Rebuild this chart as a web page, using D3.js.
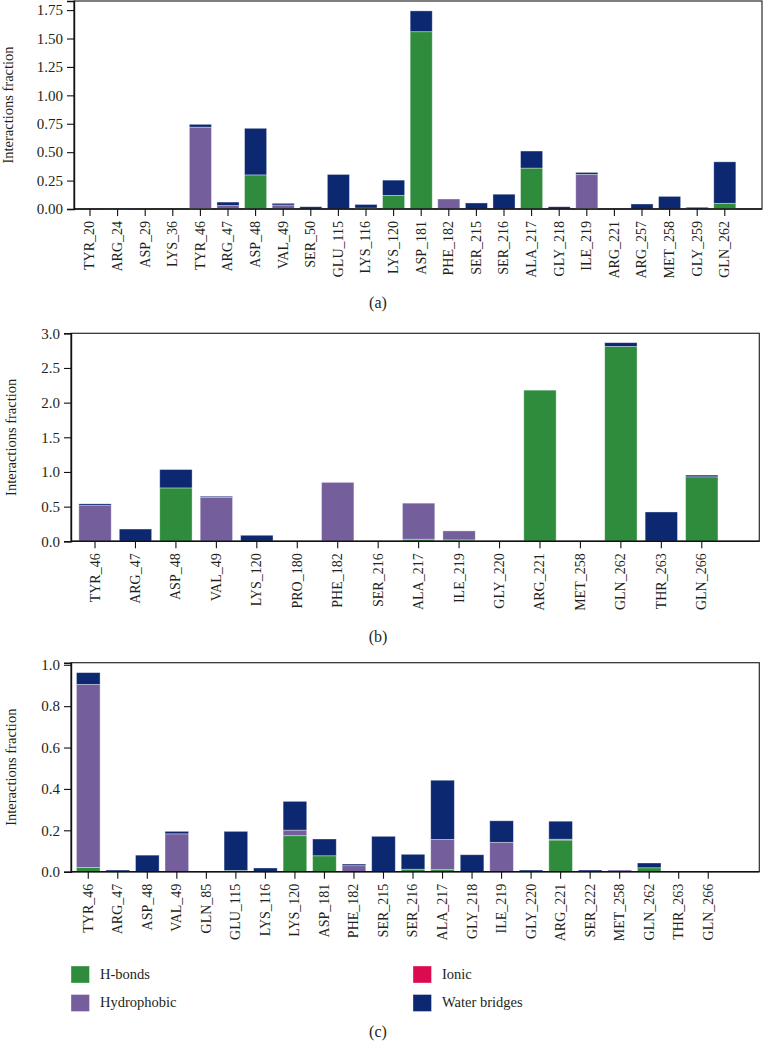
<!DOCTYPE html>
<html><head><meta charset="utf-8">
<script src="https://cdn.jsdelivr.net/npm/d3@7"></script>
<style>
html,body{margin:0;padding:0;background:#fff;}
svg{display:block;font-family:"Liberation Serif","Times New Roman",serif;}
</style></head>
<body>
<svg id="chart" width="764" height="1041"></svg>
<script>
// ---------- DATA ----------
const seriesNames = ["H-bonds", "Hydrophobic", "Ionic", "Water bridges"];
const seriesColors = ["#2f8c3d", "#745e9c", "#dc0a4f", "#0c2870"];

// Panel (a)
const residuesA = ["TYR_20","ARG_24","ASP_29","LYS_36","TYR_46","ARG_47","ASP_48","VAL_49","SER_50","GLU_115","LYS_116","LYS_120","ASP_181","PHE_182","SER_215","SER_216","ALA_217","GLY_218","ILE_219","ARG_221","ARG_257","MET_258","GLY_259","GLN_262"];
const hbondsA = [0,0,0,0,0.005,0,0.30,0,0,0,0.008,0.12,1.56,0,0,0,0.36,0,0.005,0,0,0,0,0.05];
const hydroA  = [0,0,0,0,0.715,0.03,0,0.035,0,0,0,0,0,0.088,0,0,0,0,0.30,0,0,0,0,0];
const ionicA  = [0,0,0,0,0,0,0,0,0,0,0,0,0,0,0,0,0,0,0,0,0,0,0,0];
const waterA  = [0,0.008,0,0,0.025,0.031,0.41,0.015,0.02,0.304,0.032,0.134,0.183,0,0.053,0.13,0.15,0.02,0.017,0,0.044,0.111,0.015,0.365];
const ticksA = [0,0.25,0.5,0.75,1.0,1.25,1.5,1.75];

// Panel (b)
const residuesB = ["TYR_46","ARG_47","ASP_48","VAL_49","LYS_120","PRO_180","PHE_182","SER_216","ALA_217","ILE_219","GLY_220","ARG_221","MET_258","GLN_262","THR_263","GLN_266"];
const hbondsB = [0,0,0.77,0,0,0,0,0,0.03,0.02,0,2.18,0,2.81,0,0.93];
const hydroB  = [0.515,0,0,0.635,0,0,0.85,0,0.52,0.13,0,0,0,0,0,0];
const ionicB  = [0,0,0,0,0,0,0,0,0,0,0,0,0,0,0,0];
const waterB  = [0.025,0.177,0.265,0.015,0.087,0,0,0,0,0,0,0,0,0.055,0.423,0.025];
const ticksB = [0,0.5,1.0,1.5,2.0,2.5,3.0];

// Panel (c)
const residuesC = ["TYR_46","ARG_47","ASP_48","VAL_49","GLN_85","GLU_115","LYS_116","LYS_120","ASP_181","PHE_182","SER_215","SER_216","ALA_217","GLY_218","ILE_219","GLY_220","ARG_221","SER_222","MET_258","GLN_262","THR_263","GLN_266"];
const hbondsC = [0.02,0,0,0,0,0.006,0,0.174,0.077,0,0,0.012,0.01,0,0,0,0.153,0,0,0.019,0,0];
const hydroC  = [0.885,0,0,0.183,0,0,0,0.027,0,0.029,0,0,0.146,0,0.142,0,0.004,0,0.008,0,0,0];
const ionicC  = [0,0,0,0,0,0,0,0,0,0,0,0,0,0,0,0,0,0,0,0,0,0];
const waterC  = [0.057,0.008,0.08,0.012,0,0.189,0.018,0.139,0.081,0.008,0.171,0.072,0.286,0.082,0.104,0.008,0.087,0.008,0,0.023,0,0];
const ticksC = [0,0.2,0.4,0.6,0.8,1.0];

// ---------- DRAW ----------
const svg = d3.select("#chart");
const textColor = "#231f20";

function panel(cfg) {
  const {residues, series, yMax, ticks, fmt, frame, band, label, ylabX} = cfg;
  const g = svg.append("g");
  const x = d3.scaleBand().domain(residues).range(band).paddingInner(0.2).paddingOuter(0.1);
  const y = d3.scaleLinear().domain([0, yMax]).range([frame.bottom, frame.top]);

  const rows = residues.map((r, i) => {
    const o = {res: r};
    seriesNames.forEach((s, k) => o[s] = series[k][i]);
    return o;
  });
  const stacked = d3.stack().keys(seriesNames)(rows);

  // frame
  g.append("rect")
    .attr("x", frame.left).attr("y", frame.top)
    .attr("width", frame.right - frame.left).attr("height", frame.bottom - frame.top)
    .attr("fill", "none").attr("stroke", "#2a2a2a").attr("stroke-width", 1.2);

  // bars
  stacked.forEach((layer, k) => {
    g.append("g").selectAll("rect").data(layer).join("rect")
      .attr("x", d => x(d.data.res))
      .attr("width", x.bandwidth())
      .attr("y", d => y(d[1]))
      .attr("height", d => Math.max(0, y(d[0]) - y(d[1])))
      .attr("fill", seriesColors[k])
      .attr("stroke", "rgba(255,255,255,0.45)")
      .attr("stroke-width", d => (d[1] - d[0]) > 0 ? 0.8 : 0);
  });

  // y axis
  const ya = g.append("g").attr("transform", `translate(${frame.left},0)`)
    .call(d3.axisLeft(y).tickValues(ticks).tickFormat(d3.format(fmt)).tickSizeOuter(0).tickSize(7).tickPadding(4));
  ya.select(".domain").attr("stroke", "#111").attr("stroke-width", 1.4);
  ya.selectAll(".tick line").attr("stroke", "#111").attr("stroke-width", 1.1);
  ya.selectAll(".tick text").attr("fill", textColor).style("font-size", "15px")
    .style("font-family", "'Liberation Serif', serif");

  // x axis
  const xa = g.append("g").attr("transform", `translate(0,${frame.bottom})`)
    .call(d3.axisBottom(x).tickSizeOuter(0).tickSize(7));
  xa.select(".domain").remove();
  g.append("line").attr("x1", frame.left).attr("x2", frame.right)
    .attr("y1", frame.bottom).attr("y2", frame.bottom)
    .attr("stroke", "#111").attr("stroke-width", 1.4);
  xa.selectAll(".tick line").attr("stroke", "#111").attr("stroke-width", 1.1);
  xa.selectAll(".tick text")
    .attr("fill", textColor).style("font-size", "14px")
    .style("font-family", "'Liberation Serif', serif")
    .attr("text-anchor", "end")
    .attr("transform", "rotate(-90)")
    .attr("x", -12).attr("y", 0).attr("dy", "0.32em");

  // y label
  g.append("text")
    .attr("transform", `translate(${ylabX},${(frame.top + frame.bottom) / 2}) rotate(-90)`)
    .attr("text-anchor", "middle")
    .attr("fill", textColor).style("font-size", "14.5px")
    .text("Interactions fraction");

  // panel label
  g.append("text").attr("x", 378).attr("y", label.y).attr("text-anchor", "middle")
    .attr("fill", textColor).style("font-size", "16px").text(label.text);
}

panel({
  residues: residuesA, series: [hbondsA, hydroA, ionicA, waterA],
  yMax: 1.83, ticks: ticksA, fmt: ".2f",
  frame: {left: 74, right: 762, top: 1, bottom: 209},
  band: [76.2, 738.6], label: {text: "(a)", y: 308}, ylabX: 13
});
panel({
  residues: residuesB, series: [hbondsB, hydroB, ionicB, waterB],
  yMax: 3.0, ticks: ticksB, fmt: ".1f",
  frame: {left: 71, right: 759.3, top: 333.3, bottom: 541.3},
  band: [74.8, 722], label: {text: "(b)", y: 642}, ylabX: 15.5
});
panel({
  residues: residuesC, series: [hbondsC, hydroC, ionicC, waterC],
  yMax: 1.01, ticks: ticksC, fmt: ".1f",
  frame: {left: 71, right: 759.3, top: 662.7, bottom: 871.7},
  band: [73.5, 723], label: {text: "(c)", y: 1037}, ylabX: 15.5
});

// legend
const legendItems = [
  {name: seriesNames[0], color: seriesColors[0], col: 0, row: 0},
  {name: seriesNames[2], color: seriesColors[2], col: 1, row: 0},
  {name: seriesNames[1], color: seriesColors[1], col: 0, row: 1},
  {name: seriesNames[3], color: seriesColors[3], col: 1, row: 1}
];
const legend = svg.append("g");
const colX = [71, 413], rowY = [966, 994.5];
legendItems.forEach(it => {
  legend.append("rect").attr("x", colX[it.col]).attr("y", rowY[it.row])
    .attr("width", 18.5).attr("height", 17).attr("fill", it.color)
    .attr("stroke", "rgba(255,255,255,0.45)").attr("stroke-width", 0.8);
  legend.append("text").attr("x", colX[it.col] + 29).attr("y", rowY[it.row] + 12.5)
    .attr("fill", textColor).style("font-size", "14.5px").text(it.name);
});
</script>
</body></html>
